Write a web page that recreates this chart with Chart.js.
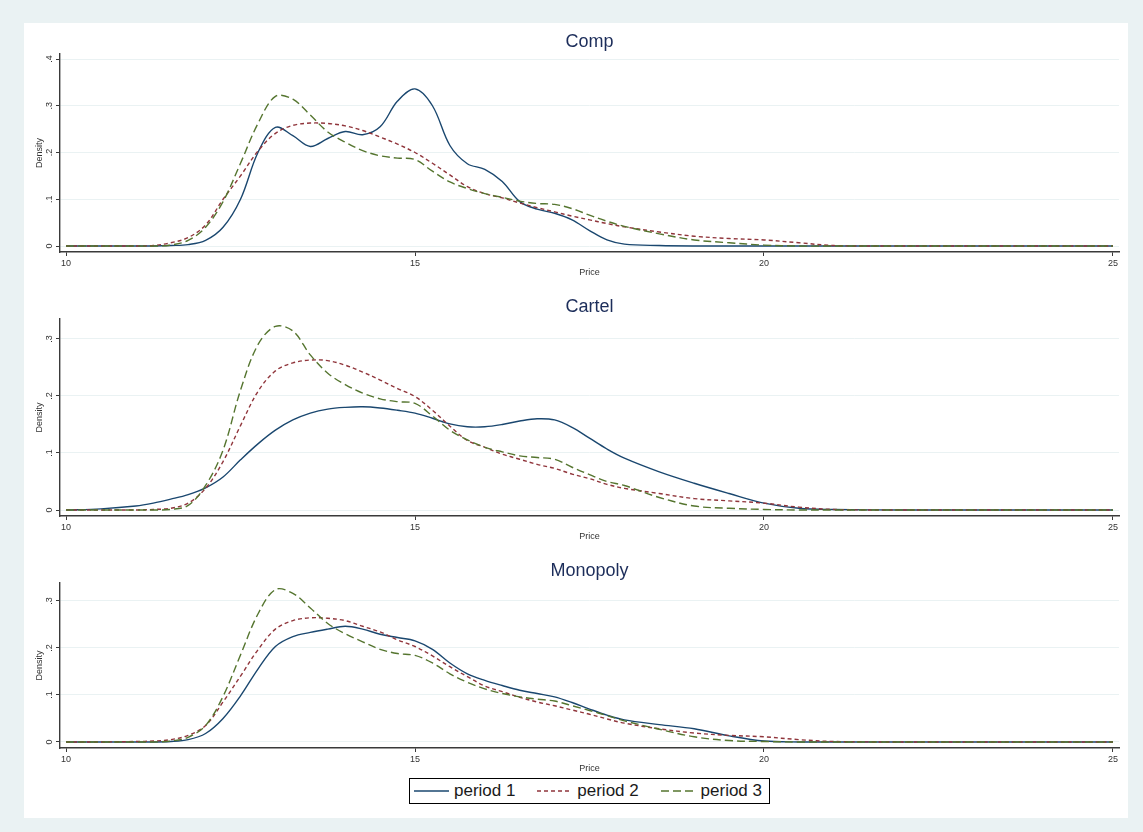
<!DOCTYPE html>
<html>
<head>
<meta charset="utf-8">
<title>Price density by period</title>
<script src="https://cdn.jsdelivr.net/npm/chart.js@4.4.1/dist/chart.umd.min.js"></script>
<style>
  html, body { margin: 0; padding: 0; background: #eaf2f3; }
  body { width: 1143px; height: 832px; position: relative; overflow: hidden;
         font-family: 'Liberation Sans', Arial, sans-serif; }
  #plot { position: absolute; left: 24px; top: 23px; width: 1104px; height: 795px; background: #fff; }
  .panel { position: absolute; left: 24px; width: 1104px; }
  #legend { position: absolute; left: 409px; top: 778px; width: 361px; height: 26px;
            box-sizing: border-box; border: 1px solid #000; display: flex; align-items: center;
            justify-content: space-between; padding: 0 7px 0 4px; font-size: 17px; color: #1a1a1a; }
  #legend .item { display: flex; align-items: center; gap: 5px; }
  #legend svg { display: block; }
</style>
</head>
<body>
<div id="plot"></div>
<div class="panel" style="top:24px;height:256px"><canvas id="comp"></canvas></div>
<div class="panel" style="top:289px;height:255px"><canvas id="cartel"></canvas></div>
<div class="panel" style="top:553px;height:223px"><canvas id="monopoly"></canvas></div>
<div id="legend"></div>

<script>
// price grid the densities were read at
const price = [10, 10.5, 11, 11.25, 11.5, 11.75, 12, 12.25, 12.5, 12.75,
  13, 13.25, 13.5, 13.75, 14, 14.25, 14.5, 14.75, 15, 15.25,
  15.5, 15.75, 16, 16.25, 16.5, 16.75, 17, 17.25, 17.5, 17.75,
  18, 18.5, 19, 19.5, 20, 20.5, 21, 22, 23, 24, 25];

// Comp
const compP1 = [0, 0, 0, 0, 0.001, 0.003, 0.012, 0.04, 0.1, 0.2,
  0.254, 0.236, 0.213, 0.23, 0.245, 0.238, 0.255, 0.31, 0.336, 0.3,
  0.215, 0.176, 0.164, 0.138, 0.095, 0.079, 0.07, 0.056, 0.033, 0.013,
  0.004, 0.001, 0, 0, 0, 0, 0, 0, 0, 0, 0];
const compP2 = [0, 0, 0, 0.001, 0.007, 0.018, 0.045, 0.1, 0.15, 0.203,
  0.241, 0.258, 0.263, 0.262, 0.257, 0.247, 0.233, 0.218, 0.2, 0.177,
  0.152, 0.127, 0.112, 0.103, 0.092, 0.082, 0.073, 0.064, 0.056, 0.048,
  0.041, 0.03, 0.021, 0.016, 0.013, 0.007, 0.001, 0, 0, 0, 0];
const compP3 = [0, 0, 0, 0, 0.002, 0.012, 0.04, 0.095, 0.177, 0.262,
  0.32, 0.314, 0.28, 0.244, 0.222, 0.204, 0.193, 0.188, 0.185, 0.16,
  0.137, 0.123, 0.112, 0.104, 0.096, 0.091, 0.089, 0.08, 0.066, 0.053,
  0.042, 0.026, 0.013, 0.007, 0.002, 0, 0, 0, 0, 0, 0];

// Cartel
const cartelP1 = [0, 0.002, 0.007, 0.012, 0.019, 0.027, 0.039, 0.058, 0.088, 0.116,
  0.14, 0.158, 0.17, 0.177, 0.18, 0.181, 0.179, 0.175, 0.17, 0.161,
  0.151, 0.146, 0.146, 0.15, 0.156, 0.16, 0.158, 0.145, 0.126, 0.107,
  0.091, 0.067, 0.047, 0.029, 0.012, 0.003, 0.001, 0, 0, 0, 0];
const cartelP2 = [0, 0, 0, 0.001, 0.003, 0.012, 0.038, 0.085, 0.148, 0.208,
  0.244, 0.258, 0.263, 0.262, 0.254, 0.242, 0.228, 0.213, 0.199, 0.175,
  0.147, 0.122, 0.11, 0.098, 0.089, 0.08, 0.073, 0.063, 0.055, 0.045,
  0.038, 0.029, 0.02, 0.016, 0.012, 0.005, 0.001, 0, 0, 0, 0];
const cartelP3 = [0, 0, 0, 0, 0.001, 0.008, 0.043, 0.105, 0.21, 0.29,
  0.322, 0.314, 0.272, 0.24, 0.22, 0.205, 0.195, 0.19, 0.187, 0.165,
  0.14, 0.123, 0.11, 0.102, 0.095, 0.092, 0.089, 0.075, 0.062, 0.05,
  0.043, 0.022, 0.007, 0.003, 0.001, 0, 0, 0, 0, 0, 0];

// Monopoly
const monoP1 = [0, 0, 0, 0, 0.001, 0.005, 0.018, 0.05, 0.098, 0.155,
  0.203, 0.224, 0.233, 0.24, 0.246, 0.24, 0.229, 0.222, 0.215, 0.197,
  0.168, 0.145, 0.131, 0.12, 0.11, 0.103, 0.096, 0.084, 0.07, 0.057,
  0.047, 0.037, 0.028, 0.013, 0.002, 0, 0, 0, 0, 0, 0];
const monoP2 = [0, 0, 0.001, 0.002, 0.005, 0.014, 0.035, 0.085, 0.14, 0.196,
  0.24, 0.258, 0.264, 0.263, 0.258, 0.246, 0.234, 0.217, 0.203, 0.183,
  0.16, 0.139, 0.119, 0.107, 0.095, 0.085, 0.077, 0.068, 0.059, 0.049,
  0.04, 0.028, 0.019, 0.014, 0.011, 0.005, 0.001, 0, 0, 0, 0];
const monoP3 = [0, 0, 0, 0, 0.002, 0.01, 0.035, 0.097, 0.185, 0.272,
  0.324, 0.316, 0.285, 0.252, 0.23, 0.213, 0.197, 0.188, 0.184, 0.168,
  0.145, 0.127, 0.113, 0.103, 0.096, 0.091, 0.087, 0.077, 0.067, 0.056,
  0.045, 0.027, 0.011, 0.003, 0.001, 0, 0, 0, 0, 0, 0];

const seriesNames = ['period 1', 'period 2', 'period 3'];
const xTicks = [10, 15, 20, 25];
const xTickLabels = ['10', '15', '20', '25'];
const yTicksComp = [0, 0.1, 0.2, 0.3, 0.4];
const yTickLabelsComp = ['0', '.1', '.2', '.3', '.4'];
const yTicksOther = [0, 0.1, 0.2, 0.3];
const yTickLabelsOther = ['0', '.1', '.2', '.3'];

// stata s2color look
const lineColors = ['#1a476f', '#90353b', '#55752f'];
const lineDashes = [[], [4, 3], [8, 4]];
const axisColor = '#3a3a3a';
const gridColor = '#eaf2f3';
const textColor = '#333';

Chart.defaults.font.family = "'Liberation Sans', Arial, sans-serif";
Chart.defaults.color = textColor;

function makePanel(id, title, series, yTicks, yLabels, yMin, yMax) {
  const ctx = document.getElementById(id).getContext('2d');
  return new Chart(ctx, {
    type: 'line',
    data: {
      datasets: series.map((vals, i) => ({
        label: seriesNames[i],
        data: price.map((p, j) => ({ x: p, y: vals[j] })),
        borderColor: lineColors[i],
        borderDash: lineDashes[i],
        borderWidth: 1.4,
        pointRadius: 0,
        fill: false,
        tension: 0.35,
        order: 2 - i
      }))
    },
    options: {
      responsive: true,
      maintainAspectRatio: false,
      animation: false,
      layout: { padding: { left: 0, right: 9, top: 0, bottom: 0 } },
      plugins: {
        legend: { display: false },
        tooltip: { enabled: false },
        title: {
          display: true,
          text: title,
          fullSize: false,
          color: '#1c2d5a',
          font: { size: 18, weight: 'normal' },
          padding: { top: 7.2, bottom: 1.2 }
        }
      },
      scales: {
        x: {
          type: 'linear',
          min: 9.914,
          max: 25.086,
          afterBuildTicks: s => { s.ticks = xTicks.map(v => ({ value: v })); },
          afterFit: s => { s.height = 28; },
          ticks: {
            callback: (v, i) => xTickLabels[i],
            font: { size: 9 },
            padding: 2,
            maxRotation: 0,
            autoSkip: false
          },
          grid: { drawOnChartArea: false, drawTicks: true, tickLength: 4, tickColor: axisColor, tickWidth: 1 },
          border: { display: true, color: axisColor, width: 1.4 },
          title: { display: true, text: 'Price', font: { size: 9 }, padding: { top: 0, bottom: 2 } }
        },
        y: {
          type: 'linear',
          min: yMin,
          max: yMax,
          afterBuildTicks: s => { s.ticks = yTicks.map(v => ({ value: v })); },
          afterFit: s => { s.width = 36; },
          ticks: {
            callback: (v, i) => yLabels[i],
            font: { size: 9 },
            minRotation: 90,
            maxRotation: 90,
            crossAlign: 'center',
            padding: 3
          },
          grid: { color: gridColor, lineWidth: 1, drawTicks: true, tickLength: 4, tickColor: axisColor, tickWidth: 1 },
          border: { display: true, color: axisColor, width: 1.4 },
          title: { display: true, text: 'Density', font: { size: 9 }, padding: { top: 10, bottom: 0 } }
        }
      }
    }
  });
}

makePanel('comp', 'Comp', [compP1, compP2, compP3], yTicksComp, yTickLabelsComp, -0.0128, 0.4107);
makePanel('cartel', 'Cartel', [cartelP1, cartelP2, cartelP3], yTicksOther, yTickLabelsOther, -0.0105, 0.335);
makePanel('monopoly', 'Monopoly', [monoP1, monoP2, monoP3], yTicksOther, yTickLabelsOther, -0.0128, 0.338);

// legend box under the last panel
const legend = document.getElementById('legend');
seriesNames.forEach((name, i) => {
  const item = document.createElement('span');
  item.className = 'item';
  const dash = lineDashes[i].length ? lineDashes[i].join(' ') : 'none';
  item.innerHTML = '<svg width="35" height="6"><line x1="0" y1="3" x2="35" y2="3" stroke="' + lineColors[i] +
    '" stroke-width="1.4" stroke-dasharray="' + dash + '"/></svg><span>' + name + '</span>';
  legend.appendChild(item);
});
</script>
</body>
</html>
